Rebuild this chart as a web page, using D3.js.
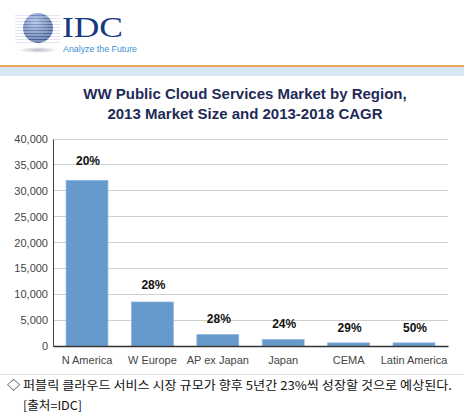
<!DOCTYPE html>
<html><head><meta charset="utf-8">
<script src="https://cdn.jsdelivr.net/npm/d3@7"></script>
<style>body{margin:0;background:#fff}svg{display:block}</style>
</head><body>
<script>
const categories = ["N America","W Europe","AP ex Japan","Japan","CEMA","Latin America"];
const marketSize = [32000, 8500, 2200, 1250, 600, 600];
const cagrLabels = ["20%","28%","28%","24%","29%","50%"];
const yTicks = [0,5000,10000,15000,20000,25000,30000,35000,40000];
const titleLines = ["WW Public Cloud Services Market by Region,","2013 Market Size and 2013-2018 CAGR"];
const noteText = "◇ 퍼블릭 클라우드 서비스 시장 규모가 향후 5년간 23%씩 성장할 것으로 예상된다.";
const sourceText = "[출처=IDC]";

const W = 464, H = 416;
const svg = d3.select("body").append("svg").attr("width", W).attr("height", H);

// header logo
const logo = svg.append("g");
const defs = svg.append("defs");
const rg = defs.append("radialGradient").attr("id","glob").attr("cx","40%").attr("cy","30%").attr("r","75%");
rg.append("stop").attr("offset","0%").attr("stop-color","#8aa6d8");
rg.append("stop").attr("offset","100%").attr("stop-color","#0e2f7a");
const sg = defs.append("radialGradient").attr("id","shad");
sg.append("stop").attr("offset","0%").attr("stop-color","#b8bcc8");
sg.append("stop").attr("offset","100%").attr("stop-color","#ffffff");
logo.append("ellipse").attr("cx",38).attr("cy",50).attr("rx",20).attr("ry",3).attr("fill","url(#shad)");
logo.append("circle").attr("cx",38).attr("cy",28).attr("r",15).attr("fill","url(#glob)");
d3.range(14,43,3).forEach(y=>{
  logo.append("line").attr("x1",15).attr("x2",60).attr("y1",y).attr("y2",y)
    .attr("stroke","#fff").attr("stroke-width",1.2).attr("opacity",0.85);
  logo.append("line").attr("x1",15).attr("x2",60).attr("y1",y+1.3).attr("y2",y+1.3)
    .attr("stroke","#9aa6c8").attr("stroke-width",0.6).attr("opacity",0.6);
});
logo.append("text").attr("x",62).attr("y",37).attr("font-family","Liberation Serif, serif")
  .attr("font-size",30).attr("fill","#17397f").attr("textLength",61).attr("lengthAdjust","spacingAndGlyphs").text("IDC");
logo.append("text").attr("x",63).attr("y",52).attr("font-family","Liberation Sans, Arial, sans-serif")
  .attr("font-size",9).attr("fill","#3d8fd1").attr("textLength",74).attr("lengthAdjust","spacingAndGlyphs").text("Analyze the Future");

svg.append("rect").attr("x",0).attr("y",65).attr("width",W).attr("height",2).attr("fill","#e8a857");
svg.append("rect").attr("x",0).attr("y",67).attr("width",W).attr("height",9).attr("fill","#d6e6f5");

// title
svg.selectAll("text.title").data(titleLines).join("text").attr("class","title")
  .attr("x",245).attr("y",(d,i)=>99+i*20).attr("text-anchor","middle")
  .attr("font-family","Liberation Sans, Arial, sans-serif").attr("font-weight","bold")
  .attr("font-size",15).attr("fill","#1f2b57").text(d=>d);

// chart
const x = d3.scaleBand().domain(categories).range([53,448]).paddingInner(0.36).paddingOuter(0.2);
const y = d3.scaleLinear().domain([0,40000]).range([346,139]);

const grid = svg.append("g");
grid.selectAll("line").data(yTicks.filter(t=>t>0)).join("line")
  .attr("x1",53).attr("x2",448).attr("y1",d=>y(d)).attr("y2",d=>y(d))
  .attr("stroke","#cfcfcf").attr("stroke-width",1).attr("shape-rendering","crispEdges");

const yAxis = svg.append("g").attr("transform","translate(53,0)")
  .call(d3.axisLeft(y).tickValues(yTicks).tickFormat(d3.format(",")).tickSize(0).tickPadding(5));
yAxis.select(".domain").attr("stroke","#444");
yAxis.selectAll("text").attr("font-family","Liberation Sans, Arial, sans-serif").attr("font-size",11).attr("fill","#444");

svg.selectAll("rect.bar").data(marketSize).join("rect").attr("class","bar")
  .attr("x",(d,i)=>x(categories[i])).attr("width",x.bandwidth())
  .attr("y",d=>y(d)).attr("height",d=>y(0)-y(d))
  .attr("fill","#6699cc").attr("stroke","#8cb3dc").attr("stroke-width",0.8);

const xAxis = svg.append("g").attr("transform","translate(0,346)")
  .call(d3.axisBottom(x).tickSize(0).tickPadding(10));
xAxis.select(".domain").attr("stroke","#333").attr("stroke-width",1.5);
xAxis.selectAll("text").attr("font-family","Liberation Sans, Arial, sans-serif").attr("font-size",11).attr("fill","#444");

svg.selectAll("text.cagr").data(cagrLabels).join("text").attr("class","cagr")
  .attr("x",(d,i)=>x(categories[i])+x.bandwidth()/2+1)
  .attr("y",(d,i)=>y(marketSize[i])-11 - Math.min(4, (y(0)-y(marketSize[i]))*0.05))
  .attr("text-anchor","middle").attr("font-family","Liberation Sans, Arial, sans-serif")
  .attr("font-weight","bold").attr("font-size",12).attr("fill","#111").text(d=>d);

// footer
svg.append("line").attr("x1",0).attr("x2",W).attr("y1",374.5).attr("y2",374.5).attr("stroke","#e0e0e0");
svg.append("text").attr("x",7).attr("y",390).attr("font-family","Noto Sans CJK KR, sans-serif")
  .attr("font-size",12).attr("fill","#111").attr("textLength",445).attr("lengthAdjust","spacingAndGlyphs").text(noteText);
svg.append("text").attr("x",23).attr("y",410).attr("font-family","Noto Sans CJK KR, sans-serif")
  .attr("font-size",12).attr("fill","#111").attr("textLength",59).attr("lengthAdjust","spacingAndGlyphs").text(sourceText);
</script>
</body></html>
